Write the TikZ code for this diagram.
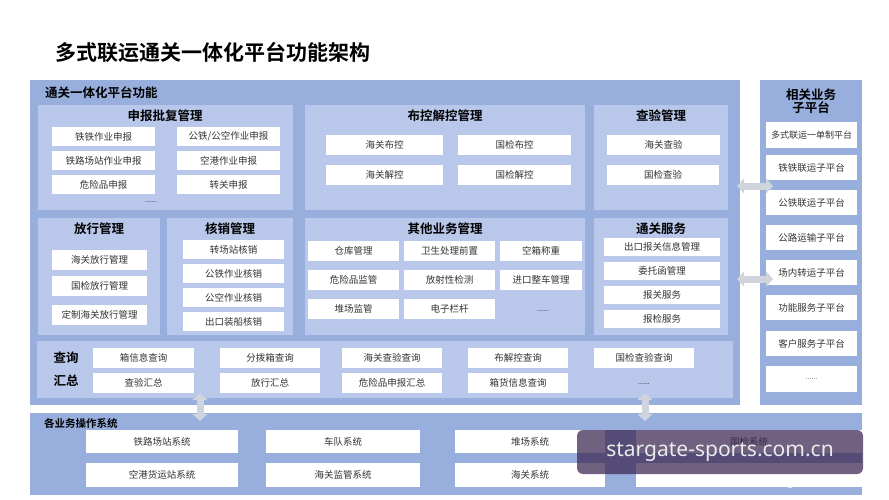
\documentclass[tikz,border=0pt]{standalone}
\usepackage{fontspec}
\setmainfont{Noto Sans CJK SC}
\newfontfamily\cjkb{Noto Sans CJK SC Bold}
\usetikzlibrary{arrows.meta}
\definecolor{outerc}{HTML}{98AEDD}
\definecolor{innerc}{HTML}{B8C7EA}
\definecolor{arrc}{HTML}{D0D4DC}
\definecolor{wmc}{HTML}{3A2550}
\tikzset{
 wb/.style={draw=none,fill=white,inner sep=0pt,font=\fontsize{9.5}{10}\selectfont,text=black!80},
 pan/.style={draw=none,fill=innerc,inner sep=0pt},
 opan/.style={draw=none,fill=outerc,inner sep=0pt},
 ttl/.style={font=\cjkb\fontsize{12.5}{14}\selectfont,inner sep=0pt},
 dbl/.style={arrc,line width=7pt,{Triangle[width=15pt,length=7pt]}-{Triangle[width=15pt,length=7pt]}},
}
\newcommand\bx[7][wb]{\node[#1,minimum width={(#5-#3)*1pt},minimum height={(#6-#4)*1pt}] (#2) at ({(#3+#5)/2},{(#4+#6)/2}) {#7};}
\begin{document}
\begin{tikzpicture}[x=1pt,y=-1pt]
\useasboundingbox (0,0) rectangle (889,500);
\fill[white] (0,0) rectangle (889,500);
\node[anchor=west,font=\cjkb\fontsize{21}{24}\selectfont,inner sep=0pt] (title) at (55,52) {多式联运通关一体化平台功能架构};
% outer panels
\bx[opan]{main}{30}{80}{740}{405}{}
\bx[opan]{right}{760}{80}{862}{405}{}
\bx[opan]{bottom}{30}{413}{862}{495}{}
\node[ttl,anchor=west] (mainl) at (45,93) {通关一体化平台功能};
\node[ttl,align=center] (rightl) at (811,101) {相关业务\\[-1pt]子平台};
\node[font=\cjkb\fontsize{10.5}{12}\selectfont,anchor=west,inner sep=0pt] (botl) at (44,423) {各业务操作系统};
% panels
\bx[pan]{p1}{38}{105}{293}{210}{}
\bx[pan]{p2}{305}{105}{585}{210}{}
\bx[pan]{p3}{594}{105}{728}{210}{}
\bx[pan]{p4}{38}{218}{160}{335}{}
\bx[pan]{p5}{167}{218}{293}{335}{}
\bx[pan]{p6}{305}{218}{585}{335}{}
\bx[pan]{p7}{594}{218}{728}{335}{}
\bx[pan]{p8}{37}{341}{733}{398}{}
\node[ttl] at (165,116) {申报批复管理};
\node[ttl] at (445,116) {布控解控管理};
\node[ttl] at (661,116) {查验管理};
\node[ttl] at (99,229) {放行管理};
\node[ttl] at (230,229) {核销管理};
\node[ttl] at (445,229) {其他业务管理};
\node[ttl] at (661,229) {通关服务};
\node[ttl] at (66,358) {查询};
\node[ttl] at (66,381) {汇总};
% p1
\bx{a1}{52}{127}{155}{146}{铁铁作业申报}
\bx{a2}{52}{151}{155}{170}{铁路场站作业申报}
\bx{a3}{52}{175}{155}{194}{危险品申报}
\bx{a4}{177}{127}{280}{146}{公铁/公空作业申报}
\bx{a5}{177}{151}{280}{170}{空港作业申报}
\bx{a6}{177}{175}{280}{194}{转关申报}
\node[font=\fontsize{7}{8}\selectfont] at (151,202) {......};
% p2
\bx{b1}{326}{135}{443}{155}{海关布控}
\bx{b2}{326}{165}{443}{185}{海关解控}
\bx{b3}{458}{135}{571}{155}{国检布控}
\bx{b4}{458}{165}{571}{185}{国检解控}
% p3
\bx{c1}{607}{135}{720}{155}{海关查验}
\bx{c2}{607}{165}{719}{185}{国检查验}
% p4
\bx{d1}{52}{250}{147}{270}{海关放行管理}
\bx{d2}{52}{276}{147}{296}{国检放行管理}
\bx{d3}{52}{305}{147}{325}{定制海关放行管理}
% p5
\bx{e1}{183}{240}{284}{259}{转场站核销}
\bx{e2}{183}{264}{284}{283}{公铁作业核销}
\bx{e3}{183}{288}{284}{307}{公空作业核销}
\bx{e4}{183}{312}{284}{331}{出口装船核销}
% p6
\bx{f1}{308}{241}{399}{261}{仓库管理}
\bx{f2}{404}{241}{495}{261}{卫生处理前置}
\bx{f3}{500}{241}{582}{261}{空箱称重}
\bx{f4}{308}{270}{399}{290}{危险品监管}
\bx{f5}{404}{270}{495}{290}{放射性检测}
\bx{f6}{500}{270}{582}{290}{进口整车管理}
\bx{f7}{308}{299}{399}{319}{堆场监管}
\bx{f8}{404}{299}{495}{319}{电子栏杆}
\node[font=\fontsize{7}{8}\selectfont] at (543,311) {......};
% p7
\bx{g1}{604}{238}{720}{256}{出口报关信息管理}
\bx{g2}{604}{262}{720}{280}{委托函管理}
\bx{g3}{604}{286}{720}{304}{报关服务}
\bx{g4}{604}{310}{720}{328}{报检服务}
% p8
\bx{h1}{93}{348}{194}{368}{箱信息查询}
\bx{h2}{220}{348}{320}{368}{分拨箱查询}
\bx{h3}{342}{348}{442}{368}{海关查验查询}
\bx{h4}{468}{348}{568}{368}{布解控查询}
\bx{h5}{594}{348}{694}{368}{国检查验查询}
\bx{h6}{93}{373}{194}{393}{查验汇总}
\bx{h7}{220}{373}{320}{393}{放行汇总}
\bx{h8}{342}{373}{442}{393}{危险品申报汇总}
\bx{h9}{468}{373}{568}{393}{箱货信息查询}
\node[font=\fontsize{7}{8}\selectfont] (hdots) at (644,384) {......};
% right
\bx[wb,font=\fontsize{9}{10}\selectfont]{r1}{766}{122}{857}{148}{多式联运一单制平台}
\bx{r2}{766}{155}{857}{180}{铁铁联运子平台}
\bx{r3}{766}{190}{857}{215}{公铁联运子平台}
\bx{r4}{766}{225}{857}{250}{公路运输子平台}
\bx{r5}{766}{260}{857}{285}{场内转运子平台}
\bx{r6}{766}{295}{857}{320}{功能服务子平台}
\bx{r7}{766}{331}{857}{356}{客户服务子平台}
\bx[wb,font=\fontsize{7}{8}\selectfont]{r8}{766}{366}{857}{392}{......}
% bottom
\bx{s1}{86}{430}{238}{453}{铁路场站系统}
\bx{s2}{266}{430}{420}{453}{车队系统}
\bx{s3}{455}{430}{605}{453}{堆场系统}
\bx{s4}{636}{430}{862}{453}{国检系统}
\bx{s5}{86}{463}{238}{487}{空港货运站系统}
\bx{s6}{266}{463}{420}{487}{海关监管系统}
\bx{s7}{455}{463}{605}{487}{海关系统}
\bx{s8}{636}{463}{862}{487}{}
% arrows
\coordinate (ua) at (200,393); \coordinate (la) at (200,421);
\coordinate (ub) at (645,393); \coordinate (lb) at (645,421);
\coordinate (ra1) at (737,186); \coordinate (rb1) at (773,186);
\coordinate (ra2) at (737,279); \coordinate (rb2) at (773,279);
\draw[dbl] (ua) -- (la);
\draw[dbl] (ub) -- (lb);
\draw[dbl] (ra1) -- (rb1);
\draw[dbl] (ra2) -- (rb2);
% watermark
\node[fill=wmc,fill opacity=0.72,text opacity=1,rounded corners=6pt,minimum width=286pt,minimum height=44pt,text=white!92!black,font=\setmainfont{Noto Sans}\fontsize{21}{24}\selectfont,inner sep=0pt] (wm) at (720,452) {stargate-sports.com.cn};
\node[text=white,font=\fontsize{11}{12}\selectfont,anchor=east,inner sep=0pt] (wm2) at (862,483) {搜狐号@无忧知识星球};
\end{tikzpicture}
\end{document}
